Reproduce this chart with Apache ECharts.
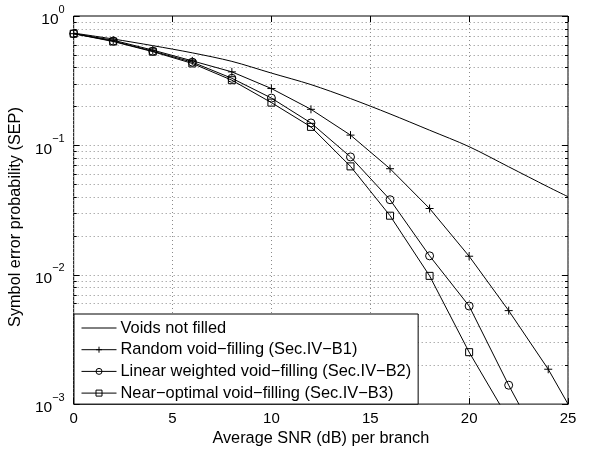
<!DOCTYPE html>
<html>
<head>
<meta charset="utf-8">
<script src="https://cdn.jsdelivr.net/npm/echarts@6/dist/echarts.min.js"></script>
<style>html,body{margin:0;padding:0;background:#fff}#c{width:592px;height:452px}</style>
</head>
<body>
<div id="c"></div>
<script>
// ---- data ----
const xSmooth = [0, 2, 4, 6, 8, 10, 12, 14, 16, 18, 20, 22, 24, 25];
const voidsNotFilled = [0.738, 0.664, 0.59, 0.519, 0.446, 0.362, 0.295, 0.230, 0.175, 0.131, 0.0977, 0.0683, 0.0477, 0.0401];

const xRandom = [0, 2, 4, 6, 8, 10, 12, 14, 16, 18, 20, 22, 24, 26];
const randomFill = [0.73, 0.65, 0.545, 0.45, 0.37, 0.275, 0.19, 0.12, 0.066, 0.0325, 0.0139, 0.00528, 0.00186, 0.00054];

const xLinear = [0, 2, 4, 6, 8, 10, 12, 14, 16, 18, 20, 22, 24];
const linearFill = [0.73, 0.64, 0.535, 0.44, 0.33, 0.232, 0.149, 0.0814, 0.038, 0.014, 0.00573, 0.0014, 0.00038];

const xNear = [0, 2, 4, 6, 8, 10, 12, 14, 16, 18, 20, 22];
const nearOptFill = [0.73, 0.635, 0.53, 0.43, 0.319, 0.214, 0.139, 0.0688, 0.0286, 0.0098, 0.00252, 0.00076];

const seriesNames = [
  'Voids not filled',
  'Random void\u2212filling (Sec.IV\u2212B1)',
  'Linear weighted void\u2212filling (Sec.IV\u2212B2)',
  'Near\u2212optimal void\u2212filling (Sec.IV\u2212B3)'
];
const xTicks = [0, 5, 10, 15, 20, 25];
const yDecades = [0.001, 0.01, 0.1];
const yMultipliers = [1, 2, 3, 4, 5, 6, 7, 8, 9];

// ---- helpers ----
const pair = (xs, ys) => xs.map((x, i) => [x, ys[i]]);
const yTickValues = [];
yDecades.forEach(d => yMultipliers.forEach(m => yTickValues.push([m * d, m === 1 ? 1 : 0])));
yTickValues.push([1, 1]);

const FONT = 'Liberation Sans';
const plusPath = 'path://M5,0L5,10M0,5L10,5';

const chart = echarts.init(document.getElementById('c'), null, {renderer: 'canvas'});

function gridRender(params, api) {
  const cs = params.coordSys;
  const v = api.value(0);
  const major = api.value(1) === 1;
  const y = Math.round(api.coord([0, v])[1]) + 0.5;
  const l = cs.x, r = cs.x + cs.width;
  const len = major ? 6 : 3;
  const children = [];
  const edge = Math.abs(y - cs.y) < 2 || Math.abs(y - (cs.y + cs.height)) < 2;
  if (!edge) {
    children.push({type: 'line', shape: {x1: l, y1: y, x2: r, y2: y},
      style: {stroke: '#8a8a8a', lineWidth: 1, lineDash: [1, 3]}, silent: true});
  }
  children.push({type: 'line', shape: {x1: l, y1: y, x2: l + len, y2: y}, style: {stroke: '#000', lineWidth: 1}});
  children.push({type: 'line', shape: {x1: r - len, y1: y, x2: r, y2: y}, style: {stroke: '#000', lineWidth: 1}});
  return {type: 'group', children};
}

const lineCommon = {
  type: 'line', xAxisIndex: 0, yAxisIndex: 0, clip: true, z: 5,
  lineStyle: {color: '#000', width: 1},
  itemStyle: {color: 'none', borderColor: '#000', borderWidth: 1},
  emphasis: {disabled: true}
};

const option = {
  animation: false,
  backgroundColor: '#fff',
  textStyle: {fontFamily: FONT},
  grid: {left: 70, right: 24, top: 16, bottom: 43, show: true, borderColor: '#000', borderWidth: 1, backgroundColor: 'transparent'},
  legend: {
    data: seriesNames,
    orient: 'vertical',
    left: 74, top: 314,
    backgroundColor: '#fff',
    borderColor: '#000', borderWidth: 1, borderRadius: 0,
    padding: [6, 7, 3, 7],
    itemWidth: 35, itemHeight: 7.5, itemGap: 5.7,
    lineStyle: {width: 1, color: '#000'},
    itemStyle: {borderWidth: 1},
    textStyle: {fontFamily: FONT, fontSize: 16.4, color: '#000', lineHeight: 16, padding: [0, 0, 0, -1]},
    inactiveColor: '#000',
    selectedMode: false
  },
  xAxis: [{
    type: 'value', min: 0, max: 25, interval: 5, position: 'bottom',
    axisLine: {show: false},
    axisTick: {show: true, inside: true, length: 6, lineStyle: {color: '#000'}},
    axisLabel: {fontFamily: FONT, fontSize: 15, color: '#000', margin: 7},
    splitLine: {show: true, lineStyle: {color: '#8a8a8a', width: 1, type: [1, 3]}},
    name: 'Average SNR (dB) per branch', nameLocation: 'middle', nameGap: 23,
    nameTextStyle: {fontFamily: FONT, fontSize: 16.3, color: '#000'}
  }, {
    type: 'value', min: 0, max: 25, interval: 5, position: 'top',
    axisLine: {show: false},
    axisTick: {show: true, inside: true, length: 6, lineStyle: {color: '#000'}},
    axisLabel: {show: false}, splitLine: {show: false}
  }],
  yAxis: [{
    type: 'log', logBase: 10, min: 0.001, max: 1,
    axisLine: {show: false},
    axisTick: {show: false},
    splitLine: {show: false},
    minorTick: {show: false},
    axisLabel: {
      margin: 9, color: '#000',
      formatter: function (v) {
        const e = Math.round(Math.log10(v));
        const es = e < 0 ? '\u2212' + (-e) : String(e);
        return '{b|10}{e|' + es + '}';
      },
      rich: {
        b: {fontFamily: FONT, fontSize: 15.5, color: '#000', padding: [8, 0, 0, 0]},
        e: {fontFamily: FONT, fontSize: 11, color: '#000', verticalAlign: 'top', lineHeight: 11}
      }
    },
    name: 'Symbol error probability (SEP)', nameLocation: 'middle', nameGap: 42,
    nameTextStyle: {fontFamily: FONT, fontSize: 16.3, color: '#000', padding: [0, 0, 0, -14]}
  }],
  series: [
    {
      type: 'custom', name: 'ygrid', xAxisIndex: 0, yAxisIndex: 0, z: 1, silent: true,
      renderItem: gridRender, data: yTickValues, clip: false
    },
    Object.assign({}, lineCommon, {
      name: seriesNames[0], data: pair(xSmooth, voidsNotFilled), symbol: 'none', smooth: 0.3,
      itemStyle: {color: 'none', borderColor: 'none', borderWidth: 0}
    }),
    Object.assign({}, lineCommon, {
      name: seriesNames[1], data: pair(xRandom, randomFill), symbol: plusPath, symbolSize: 8, showSymbol: true
    }),
    Object.assign({}, lineCommon, {
      name: seriesNames[2], data: pair(xLinear, linearFill), symbol: 'circle', symbolSize: 8, showSymbol: true
    }),
    Object.assign({}, lineCommon, {
      name: seriesNames[3], data: pair(xNear, nearOptFill), symbol: 'rect', symbolSize: 7, showSymbol: true
    })
  ]
};
chart.setOption(option);
</script>
</body>
</html>
